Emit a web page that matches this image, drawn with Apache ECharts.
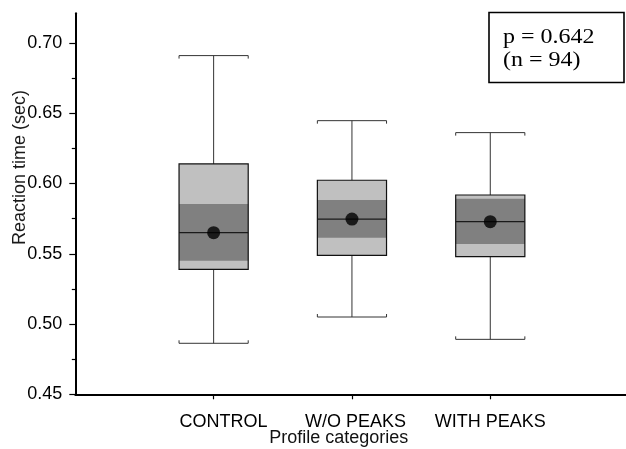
<!DOCTYPE html>
<html>
<head>
<meta charset="utf-8">
<script src="https://cdn.jsdelivr.net/npm/echarts@6/dist/echarts.min.js"></script>
<style>
  html, body { margin: 0; padding: 0; background: #fff; }
  #chart { width: 626px; height: 449px; }
</style>
</head>
<body>
<div id="chart"></div>
<script>
// Reaction time by profile category
const categories = ['CONTROL', 'W/O PEAKS', 'WITH PEAKS'];
const whiskerLow  = [0.4863, 0.5050, 0.4891];
const boxLow      = [0.5389, 0.5489, 0.5479];
const bandLow     = [0.5451, 0.5614, 0.5569];
const medians     = [0.5650, 0.5747, 0.5728];
const bandHigh    = [0.5854, 0.5883, 0.5892];
const boxHigh     = [0.6139, 0.6023, 0.5918];
const whiskerHigh = [0.6910, 0.6447, 0.6362];
const means       = [0.5650, 0.5747, 0.5728];

const yMajorTicks = [0.45, 0.50, 0.55, 0.60, 0.65, 0.70];
const yMinorTicks = [0.475, 0.525, 0.575, 0.625, 0.675];
const categoryPositions = [1, 2, 3];

const yTitle = 'Reaction time (sec)';
const xTitle = 'Profile categories';
const statLines = ['p = 0.642', '(n = 94)'];

const SANS = "'Liberation Sans', Arial, sans-serif";
const SERIF = "'Liberation Serif', 'Times New Roman', serif";

const chart = echarts.init(document.getElementById('chart'), null, { renderer: 'canvas' });

const boxData = categories.map((_, i) => [
  categoryPositions[i], whiskerLow[i], boxLow[i], bandLow[i],
  medians[i], bandHigh[i], boxHigh[i], whiskerHigh[i]
]);
const meanData = categories.map((_, i) => [categoryPositions[i], means[i]]);

function renderBox(params, api) {
  const x = api.value(0);
  const half = api.size([1, 0])[0] * 0.25;
  const py = (idx) => api.coord([x, api.value(idx)])[1];
  const cx = api.coord([x, api.value(4)])[0];
  const yWL = py(1), yQ1 = py(2), yBL = py(3), yMed = py(4),
        yBH = py(5), yQ3 = py(6), yWH = py(7);
  const whiskerStyle = { stroke: '#333', lineWidth: 1, fill: null };
  return {
    type: 'group',
    children: [
      { type: 'line', shape: { x1: cx, y1: yQ3, x2: cx, y2: yWH }, style: whiskerStyle },
      { type: 'line', shape: { x1: cx, y1: yQ1, x2: cx, y2: yWL }, style: whiskerStyle },
      { type: 'polyline', shape: { points: [[cx - half, yWH + 3], [cx - half, yWH], [cx + half, yWH], [cx + half, yWH + 3]] }, style: whiskerStyle },
      { type: 'polyline', shape: { points: [[cx - half, yWL - 3], [cx - half, yWL], [cx + half, yWL], [cx + half, yWL - 3]] }, style: whiskerStyle },
      { type: 'rect', shape: { x: cx - half, y: yQ3, width: half * 2, height: yQ1 - yQ3 }, style: { fill: '#c0c0c0' } },
      { type: 'rect', shape: { x: cx - half, y: yBH, width: half * 2, height: yBL - yBH }, style: { fill: '#808080' } },
      { type: 'rect', shape: { x: cx - half, y: yQ3, width: half * 2, height: yQ1 - yQ3 }, style: { fill: null, stroke: '#111', lineWidth: 1.2 } },
      { type: 'line', shape: { x1: cx - half, y1: yMed, x2: cx + half, y2: yMed }, style: { stroke: '#1a1a1a', lineWidth: 1.2 } }
    ]
  };
}

const yRange = { min: 0.45, max: 0.7211 };

const option = {
  animation: false,
  backgroundColor: '#fff',
  grid: { left: 75.3, right: -2.6, top: 13.3, bottom: 54.7, outerBoundsMode: 'none' },
  xAxis: {
    type: 'value',
    min: 0,
    max: 4,
    interval: 1,
    splitLine: { show: false },
    axisLine: { lineStyle: { color: '#000', width: 2 } },
    axisTick: { customValues: categoryPositions, length: 5, lineStyle: { color: '#000', width: 1.2 } },
    axisLabel: {
      customValues: categoryPositions,
      margin: 19,
      color: '#000',
      fontSize: 18,
      fontFamily: SANS,
      formatter: (v) => {
        const i = Math.round(v) - 1;
        return '{c' + i + '|' + categories[i] + '}';
      },
      rich: {
        c0: { fontSize: 18, fontFamily: SANS, color: '#000', padding: [0, 0, 0, 20] },
        c1: { fontSize: 18, fontFamily: SANS, color: '#000', padding: [0, 0, 0, 7] },
        c2: { fontSize: 18, fontFamily: SANS, color: '#000' }
      }
    }
  },
  yAxis: [
    {
      type: 'value',
      min: yRange.min,
      max: yRange.max,
      interval: 0.05,
      splitLine: { show: false },
      axisLine: { show: true, lineStyle: { color: '#000', width: 2 } },
      axisTick: { show: true, customValues: yMajorTicks, length: 6, lineStyle: { color: '#000', width: 1.2 } },
      axisLabel: {
        customValues: yMajorTicks,
        margin: 13,
        color: '#000',
        fontSize: 18,
        fontFamily: SANS,
        formatter: (v) => v.toFixed(2)
      }
    },
    {
      type: 'value',
      min: yRange.min,
      max: yRange.max,
      interval: 0.05,
      position: 'left',
      splitLine: { show: false },
      axisLine: { show: false },
      axisLabel: { show: false },
      axisTick: { show: true, customValues: yMinorTicks, length: 3.5, lineStyle: { color: '#000', width: 1.2 } }
    }
  ],
  series: [
    {
      type: 'custom',
      renderItem: renderBox,
      data: boxData,
      encode: { x: 0, y: [1, 2, 3, 4, 5, 6, 7] },
      z: 2
    },
    {
      type: 'scatter',
      data: meanData,
      symbol: 'circle',
      symbolSize: 13,
      itemStyle: { color: '#000' },
      z: 5
    }
  ],
  graphic: [
    {
      type: 'text',
      x: 20,
      y: 167.5,
      rotation: Math.PI / 2,
      style: { text: yTitle, fontSize: 18, fontFamily: SANS, fill: '#1a1a1a', align: 'center', verticalAlign: 'middle' },
      z: 10
    },
    {
      type: 'text',
      x: 338.7,
      y: 438,
      style: { text: xTitle, fontSize: 18, fontFamily: SANS, fill: '#111', align: 'center', verticalAlign: 'middle' },
      z: 10
    },
    {
      type: 'rect',
      shape: { x: 489, y: 12.5, width: 135, height: 70 },
      style: { fill: '#fff', stroke: '#000', lineWidth: 1.6 },
      z: 10
    },
    {
      type: 'text',
      x: 503,
      y: 25.5,
      scaleX: 1.2,
      style: { text: statLines.join('\n'), fontSize: 20, lineHeight: 23.5, fontFamily: SERIF, fill: '#000', align: 'left', verticalAlign: 'top' },
      z: 11
    }
  ]
};

chart.setOption(option);
</script>
</body>
</html>
